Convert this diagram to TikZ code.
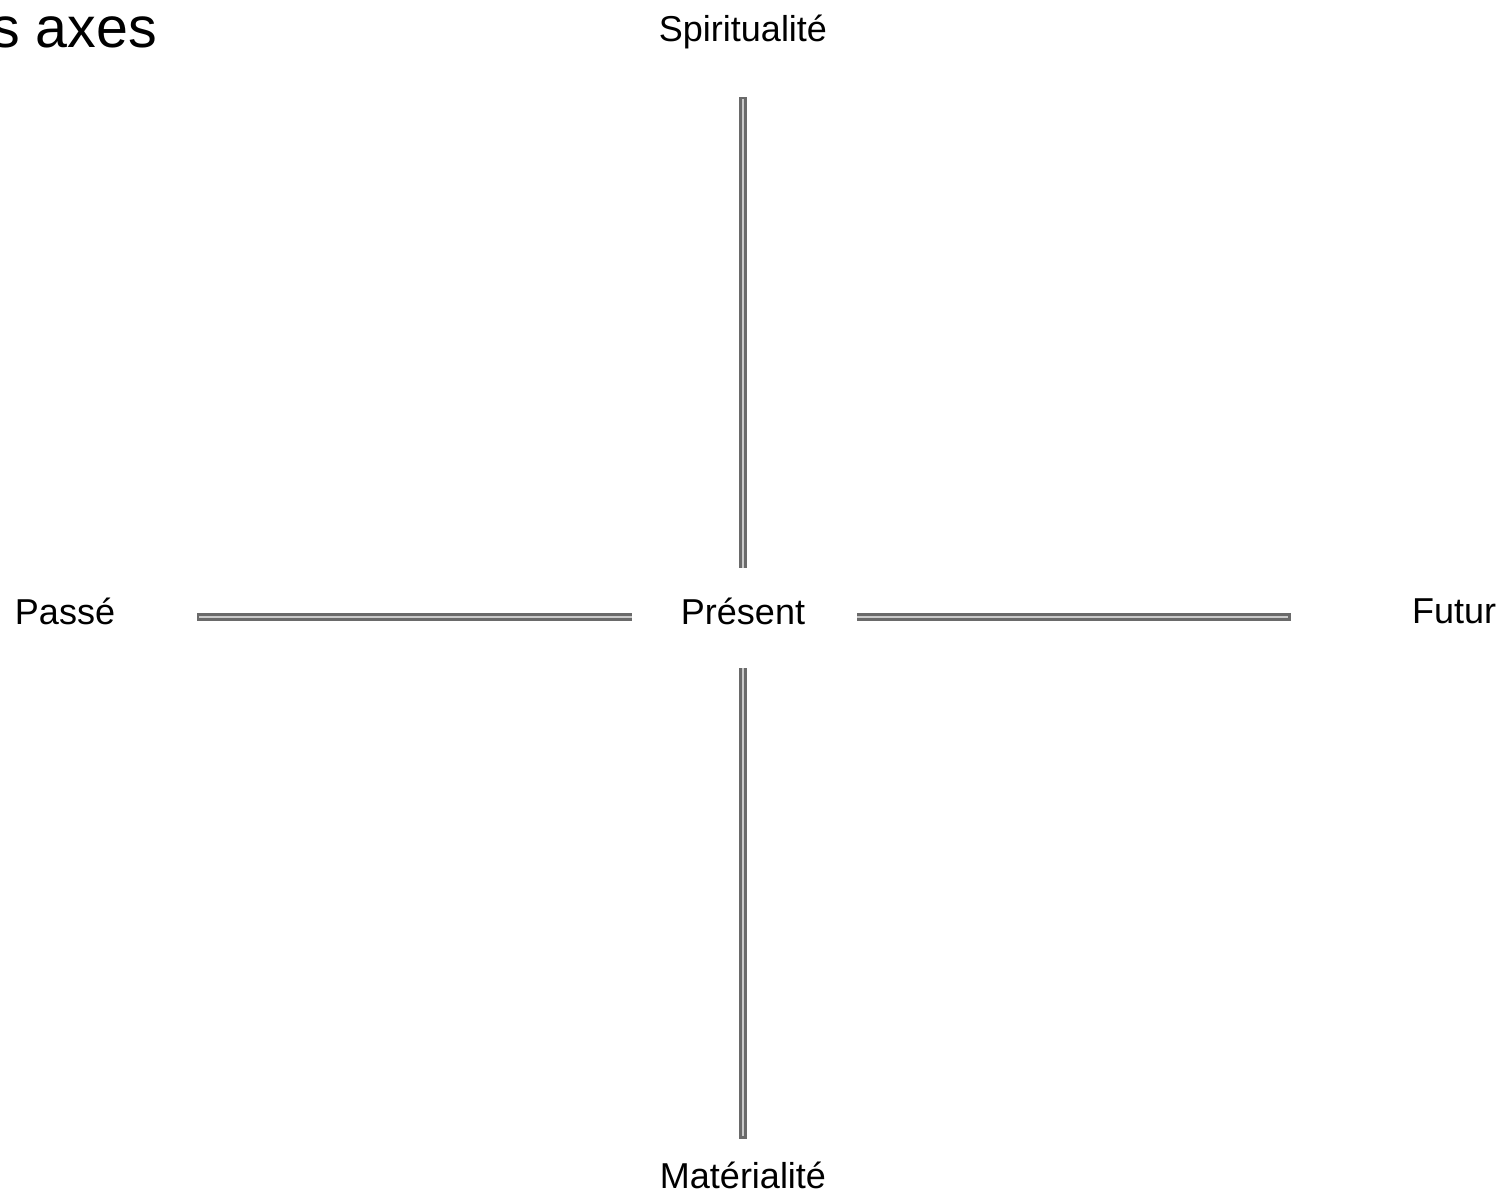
\documentclass[tikz,border=0pt]{standalone}
\usepackage{fontspec}
\setmainfont{Liberation Sans}
\definecolor{barouter}{HTML}{6A6A6A}
\definecolor{barinner}{HTML}{CACACA}
\begin{document}
\begin{tikzpicture}[x=0.75pt,y=-0.75pt,
  lbl/.style={inner sep=0pt,font=\fontsize{27}{30}\selectfont},
  bar/.style={draw=barouter,line width=1.9pt,double=barinner,double distance=2.2pt,line cap=butt},
  barend/.style={draw=barouter,line width=6pt,line cap=butt}]
\useasboundingbox (0,0) rectangle (1503,1192);
\node[inner sep=0pt,anchor=base east,font=\fontsize{43}{48}\selectfont] (title) at (157,47) {s axes};
\node[lbl] (present) at (743,611) {Présent};
\node[lbl] (spirit) at (743,32) {Spiritualité};
\node[lbl] (mater) at (743,1175) {Matérialité};
\node[lbl] (passe) at (65,611) {Passé};
\node[lbl] (futur) at (1454,611) {Futur};
\coordinate (t1) at (743,99);  \coordinate (t2) at (743,568);
\coordinate (b1) at (743,668); \coordinate (b2) at (743,1136);
\coordinate (l1) at (199,617); \coordinate (l2) at (632,617);
\coordinate (r1) at (857,617); \coordinate (r2) at (1288,617);
\draw[bar] (t1) -- (t2);
\draw[bar] (b1) -- (b2);
\draw[bar] (l1) -- (l2);
\draw[bar] (r1) -- (r2);
\draw[barend] (t1) -- ++(0,-2.5);
\draw[barend] (b2) -- ++(0,2.5);
\draw[barend] (l1) -- ++(-2.5,0);
\draw[barend] (r2) -- ++(2.5,0);
\end{tikzpicture}
\end{document}
